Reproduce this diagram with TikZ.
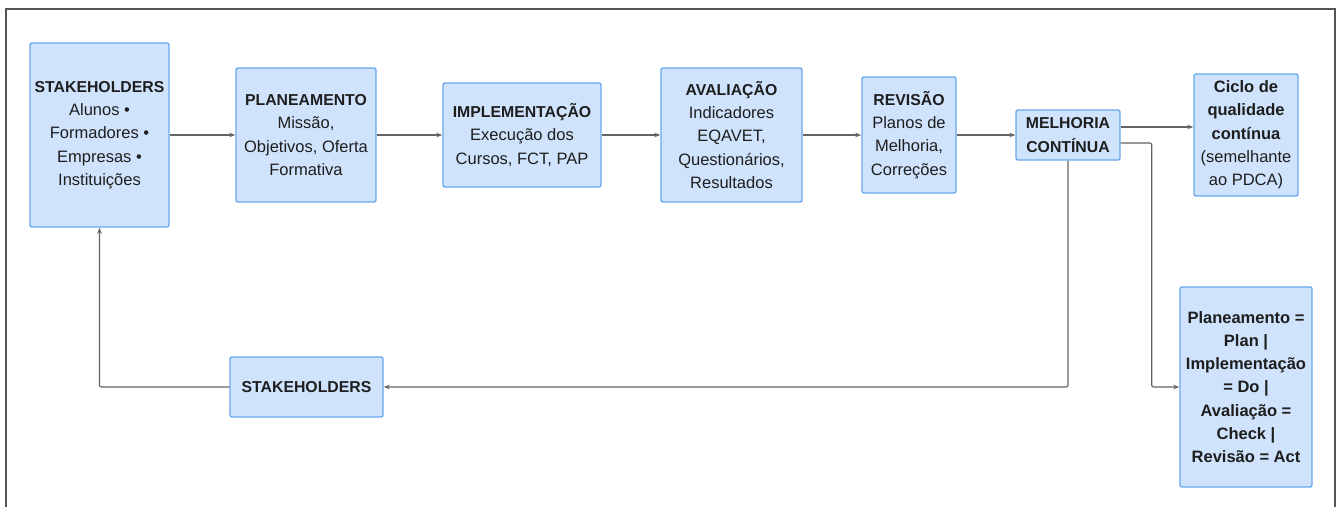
\documentclass[tikz,border=0pt]{standalone}
\usepackage{fontspec}
\setmainfont{Liberation Sans}
\usetikzlibrary{arrows.meta}
\definecolor{boxfill}{RGB}{207,227,252}
\definecolor{boxline}{RGB}{104,168,240}
\definecolor{linegray}{RGB}{100,100,100}
\definecolor{framegray}{RGB}{85,85,85}
\definecolor{textdark}{RGB}{30,30,30}
\newcommand{\hd}[1]{{\fontsize{15.8}{23.3}\selectfont\bfseries #1}}
\begin{document}
\begin{tikzpicture}[x=1pt,y=-1pt,
  blk/.style={draw=boxline,fill=boxfill,line width=1.4pt,rounded corners=2pt,align=center,inner sep=0pt,text=textdark,font=\fontsize{16.5}{23.3}\selectfont},
  conn/.style={draw=linegray,line width=1.2pt,rounded corners=2pt,-{Stealth[length=6pt,width=4.5pt]}}]
\useasboundingbox (0,0) rectangle (1342,507);
\draw[framegray,line width=2pt] (6,507) -- (6,9) -- (1335,9) -- (1335,507);

\node[blk,minimum width=139pt,minimum height=184pt] (sh1) at (99.5,135) {\hd{STAKEHOLDERS}\\Alunos •\\Formadores •\\Empresas •\\Instituições};
\node[blk,minimum width=140pt,minimum height=134pt] (plan) at (306,135) {\hd{PLANEAMENTO}\\Missão,\\Objetivos, Oferta\\Formativa};
\node[blk,minimum width=158pt,minimum height=104pt] (impl) at (522,135) {\hd{IMPLEMENTAÇÃO}\\Execução dos\\Cursos, FCT, PAP};
\node[blk,minimum width=141pt,minimum height=134pt] (aval) at (731.5,135) {\hd{AVALIAÇÃO}\\Indicadores\\EQAVET,\\Questionários,\\Resultados};
\node[blk,minimum width=94pt,minimum height=116pt] (rev) at (909,135) {\hd{REVISÃO}\\Planos de\\Melhoria,\\Correções};
\node[blk,minimum width=104pt,minimum height=50pt] (melh) at (1068,135) {\hd{MELHORIA}\\\hd{CONTÍNUA}};
\node[blk,minimum width=104pt,minimum height=122pt] (ciclo) at (1246,135) {\textbf{Ciclo de}\\\textbf{qualidade}\\\textbf{contínua}\\(semelhante\\ao PDCA)};
\node[blk,minimum width=132pt,minimum height=200pt,font=\bfseries\fontsize{16.5}{23.3}\selectfont] (pdca) at (1246,387) {Planeamento =\\Plan |\\Implementação\\= Do |\\Avaliação =\\Check |\\Revisão = Act};
\node[blk,minimum width=153pt,minimum height=60pt] (sh2) at (306.5,387) {\hd{STAKEHOLDERS}};

\draw[conn] (sh1) -- (plan);
\draw[conn] (plan) -- (impl);
\draw[conn] (impl) -- (aval);
\draw[conn] (aval) -- (rev);
\draw[conn] (rev) -- (melh);
\draw[conn] ([yshift=8pt]melh.east) -- ([yshift=8pt]melh.east -| ciclo.west);
\draw[conn] ([yshift=-8pt]melh.east) -- ++(31,0) |- (pdca.west);
\draw[conn] (melh.south) |- (sh2.east);
\draw[conn] (sh2.west) -| (sh1.south);
\end{tikzpicture}
\end{document}
